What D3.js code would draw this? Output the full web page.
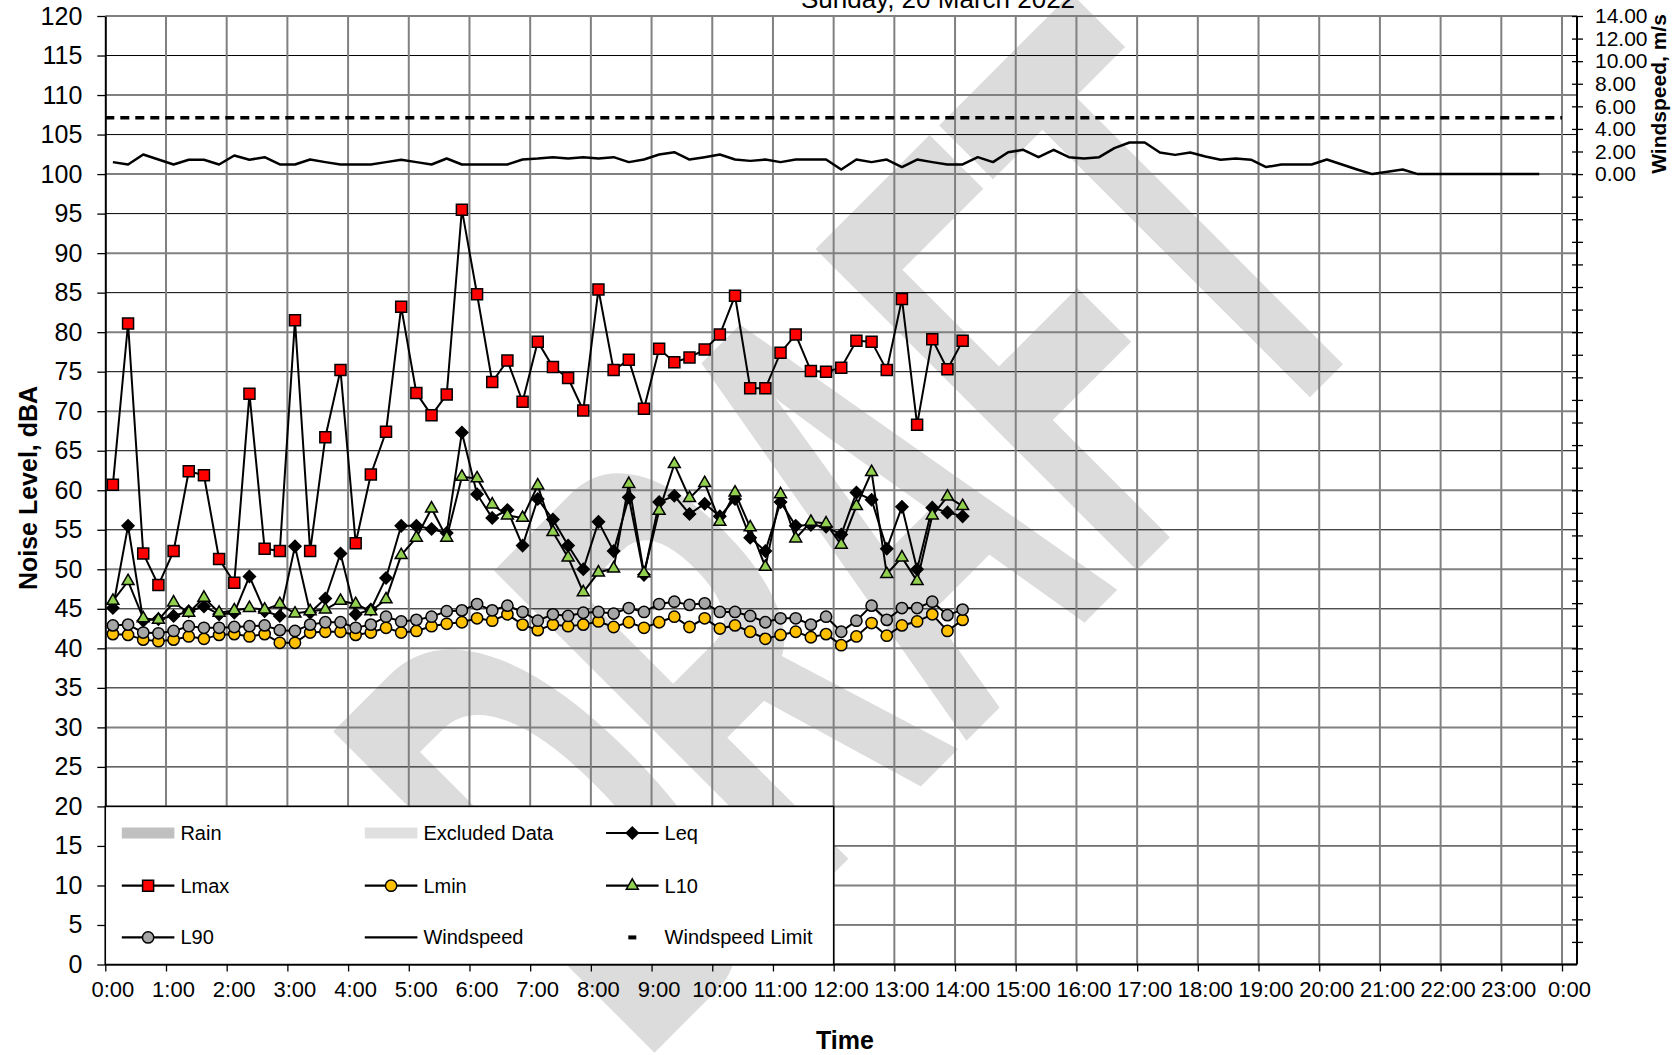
<!DOCTYPE html>
<html>
<head>
<meta charset="utf-8">
<script src="https://cdn.jsdelivr.net/npm/d3@7"></script>
<style>
    body { margin: 0; background: #ffffff; }
    #chart-area { width: 1677px; height: 1055px; }
    svg text { font-family: "Liberation Sans", Arial, sans-serif; fill: #000; }
</style>
</head>
<body>
<div id="chart-area"></div>
<script>
// ---- data ----------------------------------------------------------
const chartTitle = "Sunday, 20 March 2022";

const hourLabels = ["0:00", "1:00", "2:00", "3:00", "4:00", "5:00", "6:00", "7:00", "8:00",
    "9:00", "10:00", "11:00", "12:00", "13:00", "14:00", "15:00", "16:00", "17:00", "18:00",
    "19:00", "20:00", "21:00", "22:00", "23:00", "0:00"];

// 15 minute intervals, plotted at the middle of each interval (hours)
const intervalStart = 0.125;
const intervalStep = 0.25;

const lmax = [60.7, 81.1, 52.0, 48.0, 52.3, 62.4, 61.9, 51.3, 48.3, 72.2, 52.6, 52.3, 81.5, 52.3,
    66.7, 75.2, 53.3, 62.0, 67.4, 83.2, 72.3, 69.5, 72.1, 95.5, 84.8, 73.7, 76.4, 71.2, 78.8, 75.6,
    74.2, 70.1, 85.4, 75.2, 76.5, 70.3, 77.9, 76.2, 76.8, 77.8, 79.7, 84.6, 72.9, 72.9, 77.4, 79.7,
    75.1, 75.0, 75.5, 78.9, 78.8, 75.2, 84.2, 68.3, 79.1, 75.3, 78.9];

const leq = [45.1, 55.5, 43.5, 43.7, 44.1, 44.7, 45.3, 44.3, 44.5, 49.1, 44.7, 44.1, 52.9, 44.5,
    46.3, 52.0, 44.3, 44.9, 48.9, 55.5, 55.5, 55.1, 54.6, 67.3, 59.5, 56.5, 57.5, 53.0, 58.9, 56.3,
    53.0, 50.0, 56.0, 52.3, 59.1, 49.3, 58.5, 59.3, 57.0, 58.3, 56.7, 58.9, 54.0, 52.3, 58.5, 55.5,
    55.6, 55.4, 54.4, 59.7, 58.8, 52.6, 57.9, 50.0, 57.8, 57.2, 56.7];

const l10 = [46.0, 48.5, 43.8, 43.6, 45.8, 44.5, 46.4, 44.5, 44.8, 45.1, 44.9, 45.6, 44.4, 44.7,
    44.9, 46.0, 45.6, 44.7, 46.2, 51.8, 54.0, 57.7, 54.0, 61.7, 61.5, 58.2, 56.8, 56.5, 60.6, 54.7,
    51.5, 47.1, 49.6, 50.1, 60.8, 49.5, 57.4, 63.3, 59.0, 60.9, 56.0, 59.7, 55.3, 50.3, 59.5, 53.9,
    56.0, 55.8, 53.1, 58.0, 62.3, 49.4, 51.5, 48.5, 56.8, 59.2, 58.0];

const l90 = [42.9, 43.0, 42.0, 41.9, 42.2, 42.8, 42.6, 42.6, 42.7, 42.8, 42.9, 42.3, 42.2, 43.0,
    43.3, 43.3, 42.6, 43.0, 44.0, 43.4, 43.6, 44.0, 44.7, 44.8, 45.6, 44.8, 45.4, 44.6, 43.5, 44.3,
    44.1, 44.5, 44.6, 44.4, 45.1, 44.6, 45.6, 45.9, 45.5, 45.7, 44.6, 44.6, 44.1, 43.3, 43.8, 43.8,
    43.0, 44.0, 42.1, 43.5, 45.4, 43.6, 45.1, 45.1, 45.9, 44.2, 44.9];

const lmin = [41.8, 41.7, 41.1, 40.9, 41.1, 41.5, 41.2, 41.7, 41.8, 41.5, 41.8, 40.7, 40.7, 42.0,
    42.1, 42.1, 41.7, 42.0, 42.6, 42.0, 42.2, 42.8, 43.1, 43.3, 43.8, 43.5, 44.3, 43.0, 42.3, 43.0,
    42.8, 43.0, 43.4, 42.7, 43.3, 42.6, 43.3, 44.0, 42.7, 43.8, 42.5, 42.9, 42.1, 41.2, 41.7, 42.1,
    41.4, 41.8, 40.4, 41.5, 43.2, 41.6, 42.9, 43.4, 44.3, 42.2, 43.6];

const windspeed = [1.06, 0.85, 1.73, 1.29, 0.85, 1.27, 1.27, 0.85, 1.65, 1.27, 1.5, 0.85, 0.85,
    1.29, 1.06, 0.85, 0.85, 0.85, 1.06, 1.27, 1.06, 0.85, 1.38, 0.85, 0.85, 0.85, 0.85, 1.29, 1.38,
    1.5, 1.38, 1.5, 1.38, 1.5, 1.06, 1.29, 1.73, 1.94, 1.29, 1.5, 1.73, 1.29, 1.17, 1.29, 1.06, 1.29,
    1.29, 1.29, 0.41, 1.29, 1.06, 1.29, 0.62, 1.29, 1.06, 0.85, 0.85, 1.5, 1.06, 1.94, 2.15, 1.5,
    2.15, 1.5, 1.38, 1.5, 2.3, 2.8, 2.8, 1.91, 1.7, 1.91, 1.56, 1.27, 1.38, 1.27, 0.62, 0.85, 0.85,
    0.85, 1.29, 0.85, 0.41, 0, 0.2, 0.41, 0, 0, 0, 0, 0, 0, 0, 0, 0];

const windspeedLimit = 5;

const legendLabels = ["Rain", "Excluded Data", "Leq", "Lmax", "Lmin", "L10", "L90", "Windspeed", "Windspeed Limit"];

// ---- chart ---------------------------------------------------------
class NoiseChart {
    constructor(parentElement) {
        this.parentElement = parentElement;
        this.initVis();
    }

    initVis() {
        let vis = this;

        vis.margin = { top: 16, right: 100, bottom: 90.5, left: 105.3 };
        vis.width = 1677 - vis.margin.left - vis.margin.right;
        vis.height = 1055 - vis.margin.top - vis.margin.bottom;

        vis.root = d3.select("#" + vis.parentElement)
            .append("svg")
            .attr("width", 1677)
            .attr("height", 1055);

        // DRAFT watermark (narrow, tall lettering) sits under everything
        vis.root.append("text")
            .attr("class", "watermark")
            .attr("transform", "translate(639,1066) rotate(-45) scale(0.48,1)")
            .style("font-size", "656px")
            .style("font-weight", "bold")
            .style("fill", "#dcdcdc")
            .style("stroke", "#dcdcdc")
            .style("stroke-width", 3)
            .text("DRAFT");

        vis.svg = vis.root.append("g")
            .attr("transform", `translate(${vis.margin.left},${vis.margin.top})`);

        vis.x = d3.scaleLinear().domain([0, 24]).range([0, 1456.7]);
        vis.y = d3.scaleLinear().domain([0, 120]).range([vis.height, 0]);
        vis.yWind = d3.scaleLinear().domain([0, 14]).range([vis.y(100), vis.y(120)]);

        vis.gridGroup = vis.svg.append("g").attr("class", "grid");
        vis.dataGroup = vis.svg.append("g").attr("class", "data");
        vis.axisGroup = vis.svg.append("g").attr("class", "axes");
        vis.legendGroup = vis.svg.append("g").attr("class", "legend");

        vis.wrangleData();
    }

    wrangleData() {
        let vis = this;

        vis.noiseTimes = lmax.map((d, i) => intervalStart + i * intervalStep);
        vis.windTimes = windspeed.map((d, i) => intervalStart + i * intervalStep);

        // drawing order follows the legend
        vis.series = [
            { name: "Leq", values: leq, symbol: "diamond", fill: "#000000" },
            { name: "Lmax", values: lmax, symbol: "square", fill: "#ff0000" },
            { name: "Lmin", values: lmin, symbol: "circle", fill: "#ffc000" },
            { name: "L10", values: l10, symbol: "triangle", fill: "#92d050" },
            { name: "L90", values: l90, symbol: "circle", fill: "#a6a6a6" }
        ];

        vis.updateVis();
    }

    symbolPath(type) {
        if (type === "square") return d3.symbol().type(d3.symbolSquare).size(121)();
        if (type === "circle") return d3.symbol().type(d3.symbolCircle).size(100)();
        if (type === "triangle") return d3.symbol().type(d3.symbolTriangle).size(62)();
        // diamond = square turned 45 degrees
        return "M0,-6L6,0L0,6L-6,0Z";
    }

    updateVis() {
        let vis = this;

        // grid
        vis.gridGroup.selectAll(".h-grid")
            .data(d3.range(0, 121, 5))
            .enter()
            .append("line")
            .attr("class", "h-grid")
            .attr("x1", 0)
            .attr("x2", vis.width)
            .attr("y1", d => vis.y(d))
            .attr("y2", d => vis.y(d))
            .attr("stroke", d => d % 10 === 0 ? "#808080" : "#000000")
            .attr("stroke-width", d => d % 10 === 0 ? 2 : 1);

        vis.gridGroup.selectAll(".v-grid")
            .data(d3.range(1, 25))
            .enter()
            .append("line")
            .attr("class", "v-grid")
            .attr("x1", d => vis.x(d))
            .attr("x2", d => vis.x(d))
            .attr("y1", 0)
            .attr("y2", vis.height)
            .attr("stroke", "#808080")
            .attr("stroke-width", 2);

        // windspeed limit + windspeed
        vis.dataGroup.append("line")
            .attr("x1", vis.x(0))
            .attr("x2", vis.x(24))
            .attr("y1", vis.yWind(windspeedLimit))
            .attr("y2", vis.yWind(windspeedLimit))
            .attr("stroke", "#000")
            .attr("stroke-width", 3.5)
            .attr("stroke-dasharray", "9,6");

        vis.dataGroup.append("path")
            .datum(windspeed)
            .attr("fill", "none")
            .attr("stroke", "#000")
            .attr("stroke-width", 2.5)
            .attr("stroke-linejoin", "round")
            .attr("d", d3.line()
                .x((d, i) => vis.x(vis.windTimes[i]))
                .y(d => vis.yWind(d)));

        let noiseLine = d3.line()
            .x((d, i) => vis.x(vis.noiseTimes[i]))
            .y(d => vis.y(d));

        vis.series.forEach(s => {
            let g = vis.dataGroup.append("g").attr("class", "series-" + s.name);

            g.append("path")
                .datum(s.values)
                .attr("fill", "none")
                .attr("stroke", "#000")
                .attr("stroke-width", 2)
                .attr("d", noiseLine);

            g.selectAll(".marker")
                .data(s.values)
                .enter()
                .append("path")
                .attr("class", "marker")
                .attr("transform", (d, i) => `translate(${vis.x(vis.noiseTimes[i])},${vis.y(d)})`)
                .attr("d", vis.symbolPath(s.symbol))
                .attr("fill", s.fill)
                .attr("stroke", "#000")
                .attr("stroke-width", 1.5);
        });

        // left axis
        let leftAxis = vis.axisGroup.append("g")
            .call(d3.axisLeft(vis.y)
                .tickValues(d3.range(0, 121, 5))
                .tickSize(8)
                .tickSizeOuter(0)
                .tickPadding(15));
        leftAxis.selectAll("text").style("font-size", "25px");

        // right (windspeed) axis: ticks run down the whole height, labels only from 0 up
        let rightAxis = vis.axisGroup.append("g")
            .attr("transform", `translate(${vis.width},0)`)
            .call(d3.axisRight(vis.yWind)
                .tickValues(d3.range(-68, 15, 2))
                .tickSize(6)
                .tickSizeOuter(0)
                .tickPadding(12)
                .tickFormat(d => d >= 0 ? d3.format(".2f")(d) : ""));
        rightAxis.selectAll(".tick line").attr("x1", -5).attr("x2", 6);
        rightAxis.selectAll("text").style("font-size", "21px");
        rightAxis.select(".domain").attr("d", `M0,0V${vis.height}`);

        // bottom axis
        let bottomAxis = vis.axisGroup.append("g")
            .attr("transform", `translate(0,${vis.height})`)
            .call(d3.axisBottom(vis.x)
                .tickValues(d3.range(0, 25))
                .tickSize(7)
                .tickSizeOuter(0)
                .tickFormat(d => hourLabels[d]));
        bottomAxis.select(".domain").attr("d", `M0,0H${vis.width}`);
        bottomAxis.selectAll("text")
            .style("font-size", "22px")
            .attr("x", 7)
            .attr("y", 17);

        vis.axisGroup.selectAll(".domain")
            .attr("stroke", "#000")
            .attr("stroke-width", 2);
        vis.axisGroup.selectAll(".tick line").attr("stroke", "#000").attr("stroke-width", 1.3);

        // titles
        vis.root.append("text")
            .attr("x", 938)
            .attr("y", 8)
            .attr("text-anchor", "middle")
            .style("font-size", "26px")
            .text(chartTitle);

        vis.root.append("text")
            .attr("transform", "translate(37,488) rotate(-90)")
            .attr("text-anchor", "middle")
            .style("font-size", "25px")
            .style("font-weight", "bold")
            .text("Noise Level, dBA");

        vis.root.append("text")
            .attr("transform", "translate(1666,94) rotate(-90)")
            .attr("text-anchor", "middle")
            .style("font-size", "21px")
            .style("font-weight", "bold")
            .text("Windspeed, m/s");

        vis.root.append("text")
            .attr("x", 845)
            .attr("y", 1049)
            .attr("text-anchor", "middle")
            .style("font-size", "25px")
            .style("font-weight", "bold")
            .text("Time");

        vis.drawLegend();
    }

    drawLegend() {
        let vis = this;

        let top = vis.y(20);
        vis.legendGroup.append("rect")
            .attr("x", 0)
            .attr("y", top)
            .attr("width", vis.x(12))
            .attr("height", vis.y(0) - top)
            .attr("fill", "#fff")
            .attr("stroke", "#000")
            .attr("stroke-width", 1.5);

        let colX = [16.5, 259.5, 500.7];
        let symW = 52.6;
        let rowY = [26.6, 79.3, 131];

        let items = vis.legendGroup.selectAll(".legend-item")
            .data(legendLabels)
            .enter()
            .append("g")
            .attr("class", "legend-item")
            .attr("transform", (d, i) => `translate(${colX[i % 3]},${top + rowY[Math.floor(i / 3)]})`);

        items.append("text")
            .attr("x", symW + 6)
            .attr("y", 0)
            .attr("dy", "0.35em")
            .style("font-size", "20px")
            .text(d => d);

        items.each(function (d) {
            let g = d3.select(this);
            if (d === "Rain" || d === "Excluded Data") {
                g.append("rect")
                    .attr("x", 0).attr("y", -5.5)
                    .attr("width", symW).attr("height", 11)
                    .attr("fill", d === "Rain" ? "#c0c0c0" : "#e0e0e0");
                return;
            }
            if (d === "Windspeed Limit") {
                g.append("rect")
                    .attr("x", symW / 2 - 4).attr("y", -2)
                    .attr("width", 8).attr("height", 4)
                    .attr("fill", "#000");
                return;
            }
            g.append("line")
                .attr("x1", 0).attr("x2", symW)
                .attr("stroke", "#000")
                .attr("stroke-width", 2.2);
            let s = vis.series.find(e => e.name === d);
            if (s) {
                g.append("path")
                    .attr("transform", `translate(${symW / 2},0)`)
                    .attr("d", vis.symbolPath(s.symbol))
                    .attr("fill", s.fill)
                    .attr("stroke", "#000")
                    .attr("stroke-width", 1.5);
            }
        });
    }
}

new NoiseChart("chart-area");
</script>
</body>
</html>
